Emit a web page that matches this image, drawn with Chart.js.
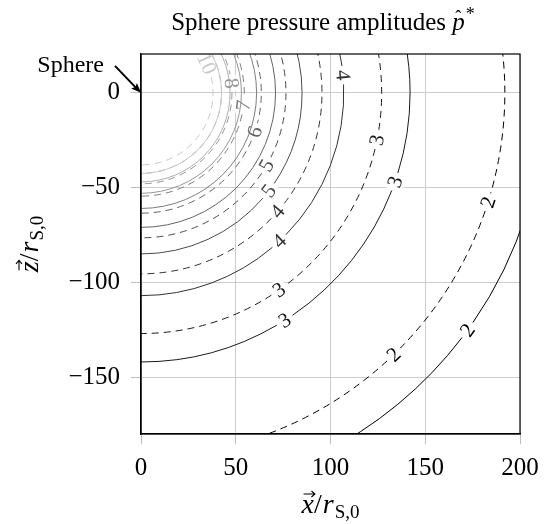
<!DOCTYPE html>
<html>
<head>
<meta charset="utf-8">
<script src="https://cdn.jsdelivr.net/npm/chart.js@4"></script>
<style>
  html, body { margin: 0; padding: 0; background: #fff; }
  #wrap { width: 555px; height: 524px; }
</style>
</head>
<body>
<div id="wrap"><canvas id="chart" width="555" height="524"></canvas></div>
<script>
// Contour levels of the pressure amplitude and the radius of each contour
const levels = [2, 3, 4, 5, 6, 7, 8, 9, 10];
const solidRadius = [213, 142, 107, 85, 71, 61, 53, 47, 42.5];
const dashedRadius = [192, 127, 95.5, 76.5, 63.5, 54.5, 48, 42.5, 38];

const xTicks = [0, 50, 100, 150, 200];
const yTicks = [-150, -100, -50, 0];

// where the contour labels sit on each arc (degrees)
const solidLabelAngles = { 2: [-36], 3: [-19.3, -57.7], 4: [5, -47], 5: [-37.5] };
const dashedLabelAngles = { 2: [-17.5, -46], 3: [-11.3, -55], 4: [-41], 5: [-30], 6: [-19], 7: [-7], 8: [6], 10: [24] };

const SERIF = '"Liberation Serif", "DejaVu Serif", serif';

function levelColor(level) {
    const g = Math.round(Math.min(215, (level - 2) / 8 * 200));
    return `rgb(${g}, ${g}, ${g})`;
}

function fmtTick(v) {
    return v < 0 ? '\u2212' + Math.abs(v) : String(v);
}

// draws text pieces side by side, returns left x of each piece
function drawPieces(ctx, pieces, x, y, align) {
    let total = 0;
    pieces.forEach(p => { ctx.font = p.font; p.w = ctx.measureText(p.text).width; total += p.w + (p.gap || 0); });
    let cur = align === 'center' ? x - total / 2 : x;
    const pos = [];
    pieces.forEach(p => {
        ctx.font = p.font;
        ctx.fillText(p.text, cur, y + (p.dy || 0));
        pos.push(cur);
        cur += p.w + (p.gap || 0);
    });
    return pos;
}

function vecArrow(ctx, x0, x1, y) {
    ctx.save();
    ctx.lineWidth = 1.1;
    ctx.beginPath();
    ctx.moveTo(x0, y);
    ctx.lineTo(x1, y);
    ctx.moveTo(x1 - 3.5, y - 3);
    ctx.lineTo(x1, y);
    ctx.lineTo(x1 - 3.5, y + 3);
    ctx.stroke();
    ctx.restore();
}

function axisLabel(ctx, letter, x, y) {
    const pieces = [
        { text: letter, font: 'italic 28px ' + SERIF },
        { text: '/', font: '28px ' + SERIF, gap: 1 },
        { text: 'r', font: 'italic 28px ' + SERIF, gap: 1 },
        { text: 'S,0', font: '19px ' + SERIF, dy: 5 }
    ];
    const pos = drawPieces(ctx, pieces, x, y, 'center');
    vecArrow(ctx, pos[0] + 2, pos[0] + pieces[0].w + 1, y - 19);
}

const contourPlugin = {
    id: 'contours',
    afterDraw(chart) {
        const { ctx, chartArea: a, scales: { x, y } } = chart;
        const cx = x.getPixelForValue(0);
        const cy = y.getPixelForValue(0);
        const sx = x.getPixelForValue(1) - cx;
        const sy = y.getPixelForValue(-1) - cy;

        const lines = [];
        levels.forEach((lv, i) => {
            lines.push({ level: lv, r: solidRadius[i], dash: [], angles: solidLabelAngles[lv] || [] });
            lines.push({ level: lv, r: dashedRadius[i], dash: [7, 5], angles: dashedLabelAngles[lv] || [] });
        });

        ctx.save();
        ctx.beginPath();
        ctx.rect(a.left, a.top, a.right - a.left, a.bottom - a.top);
        ctx.clip();
        ctx.font = '21px ' + SERIF;

        // label positions
        lines.forEach(l => {
            l.labels = l.angles.map(deg => {
                const t = deg * Math.PI / 180;
                const px = cx + l.r * sx * Math.cos(t);
                const py = cy - l.r * sy * Math.sin(t);
                let rot = deg + 90;
                if (rot > 90) rot -= 180;
                const w = ctx.measureText(String(l.level)).width;
                const half = (w / 2 + 4) / (l.r * sx);
                return { t, px, py, rot, w, half };
            });
        });

        // white boxes so the grid stops behind the labels
        ctx.fillStyle = '#fff';
        lines.forEach(l => l.labels.forEach(lb => {
            ctx.save();
            ctx.translate(lb.px, lb.py);
            ctx.rotate(-lb.rot * Math.PI / 180);
            ctx.fillRect(-lb.w / 2 - 3, -10, lb.w + 6, 20);
            ctx.restore();
        }));

        // arcs with a gap at each label
        ctx.lineWidth = 1;
        lines.forEach(l => {
            const gaps = l.labels.map(lb => [lb.t - lb.half, lb.t + lb.half]).sort((p, q) => p[0] - q[0]);
            const segs = [];
            let start = -Math.PI / 2;
            gaps.forEach(g => { segs.push([start, g[0]]); start = g[1]; });
            segs.push([start, Math.PI / 2]);
            ctx.strokeStyle = levelColor(l.level);
            ctx.setLineDash(l.dash);
            segs.forEach(s => {
                if (s[1] <= s[0]) return;
                ctx.beginPath();
                ctx.ellipse(cx, cy, l.r * sx, l.r * sy, 0, -s[1], -s[0]);
                ctx.stroke();
            });
        });
        ctx.setLineDash([]);

        // label text
        ctx.textAlign = 'center';
        ctx.textBaseline = 'middle';
        lines.forEach(l => l.labels.forEach(lb => {
            ctx.save();
            ctx.fillStyle = levelColor(l.level);
            ctx.translate(lb.px, lb.py);
            ctx.rotate(-lb.rot * Math.PI / 180);
            ctx.fillText(String(l.level), 0, 1);
            ctx.restore();
        }));
        ctx.restore();

        // frame
        ctx.save();
        ctx.strokeStyle = '#000';
        ctx.lineWidth = 1.2;
        ctx.strokeRect(a.left, a.top, a.right - a.left, a.bottom - a.top);

        // title
        ctx.fillStyle = '#000';
        ctx.textBaseline = 'alphabetic';
        ctx.textAlign = 'left';
        const tp = [
            { text: 'Sphere pressure amplitudes ', font: '25px ' + SERIF },
            { text: 'p', font: 'italic 25px ' + SERIF, gap: 1 },
            { text: '*', font: '18px ' + SERIF, dy: -10 }
        ];
        const tpos = drawPieces(ctx, tp, 323, 30, 'center');
        ctx.font = '18px ' + SERIF;
        ctx.fillText('\u02C6', tpos[1] + 3, 23);

        // axis titles
        axisLabel(ctx, 'x', (a.left + a.right) / 2, 513);
        ctx.save();
        ctx.translate(38, (a.top + a.bottom) / 2);
        ctx.rotate(-Math.PI / 2);
        axisLabel(ctx, 'z', 0, 0);
        ctx.restore();

        // "Sphere" annotation pointing at the origin
        const ax = cx, ay = cy;
        const bx = ax - 26, by = ay - 27;
        ctx.lineWidth = 2;
        ctx.beginPath();
        ctx.moveTo(bx, by);
        ctx.lineTo(ax - 4, ay - 4);
        ctx.stroke();
        ctx.beginPath();
        ctx.translate(ax, ay);
        ctx.rotate(Math.atan2(ay - by, ax - bx));
        ctx.moveTo(0, 0);
        ctx.lineTo(-10, -4);
        ctx.lineTo(-8, 0);
        ctx.lineTo(-10, 4);
        ctx.closePath();
        ctx.fill();
        ctx.setTransform(1, 0, 0, 1, 0, 0);
        ctx.font = '24px ' + SERIF;
        ctx.textAlign = 'right';
        ctx.fillText('Sphere', bx - 11, by + 6);
        ctx.restore();
    }
};

new Chart(document.getElementById('chart'), {
    type: 'scatter',
    data: { datasets: [] },
    options: {
        responsive: false,
        animation: false,
        events: [],
        layout: { padding: { top: 54, right: 35, bottom: 0, left: 0 } },
        plugins: { legend: { display: false }, tooltip: { enabled: false }, title: { display: false } },
        scales: {
            x: {
                type: 'linear',
                min: 0,
                max: 200,
                afterBuildTicks: scale => { scale.ticks = xTicks.map(v => ({ value: v })); },
                afterFit: scale => { scale.height = 90; },
                grid: { color: '#cccccc', lineWidth: 1, tickLength: 10, tickColor: '#bdbdbd' },
                border: { display: true, color: '#000', width: 1.2 },
                ticks: {
                    color: '#000',
                    font: { family: SERIF, size: 25 },
                    padding: 9,
                    maxRotation: 0,
                    autoSkip: false,
                    callback: fmtTick
                }
            },
            y: {
                type: 'linear',
                min: -180,
                max: 20.5,
                afterBuildTicks: scale => { scale.ticks = yTicks.map(v => ({ value: v })); },
                afterFit: scale => { scale.width = 141; },
                grid: { color: '#cccccc', lineWidth: 1, tickLength: 10, tickColor: '#bdbdbd' },
                border: { display: true, color: '#000', width: 1.2 },
                ticks: {
                    color: '#000',
                    font: { family: SERIF, size: 25 },
                    padding: 11,
                    autoSkip: false,
                    callback: fmtTick
                }
            }
        }
    },
    plugins: [contourPlugin]
});
</script>
</body>
</html>
